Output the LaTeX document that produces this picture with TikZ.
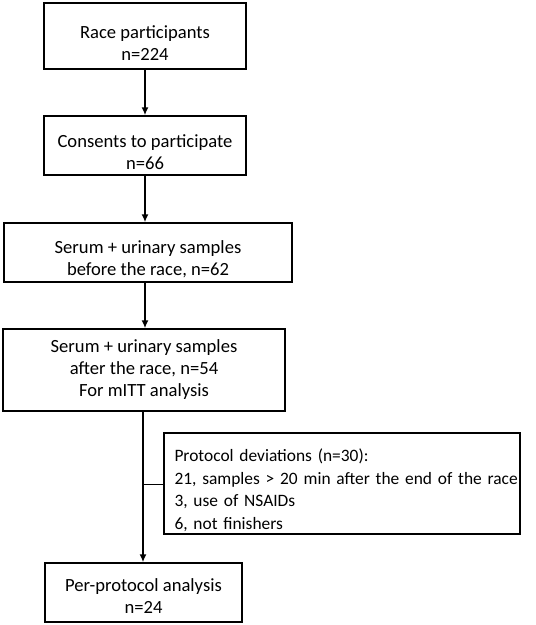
\documentclass[tikz,border=0pt]{standalone}
\usepackage{fontspec}
\setmainfont{Carlito}
\newfontfamily\devfont[WordSpace=0.8]{Carlito}
\usetikzlibrary{arrows.meta}

% pushes a node's text a little down
\newcommand{\lowstrut}[1][26pt]{\rule{0pt}{#1}}

\tikzset{
	stagebox/.style={draw, line width=1.4pt, align=center, inner sep=0pt, font=\fontsize{18.6}{22}\selectfont},
	flowarrow/.style={-{Latex[length=8pt, width=7pt]}, line width=2.4pt},
}

\begin{document}
\begin{tikzpicture}[x=1pt, y=-1pt]
		
		\useasboundingbox (0, 0) rectangle (536, 625);
		
		% main stages
		\node (race) [stagebox, minimum width=202pt, minimum height=66pt] at (145, 36) {\lowstrut Race participants\\n=224};
		\node (consent) [stagebox, minimum width=202pt, minimum height=59pt] at (145, 145.5) {\lowstrut Consents to participate\\n=66};
		\node (before) [stagebox, minimum width=288pt, minimum height=59pt] at (148, 252.5) {\lowstrut Serum + urinary samples\\before the race, n=62};
		\node (after) [stagebox, minimum width=282pt, minimum height=82pt] at (144, 370) {Serum + urinary samples\\after the race, n=54\\For mITT analysis};
		\node (perprot) [stagebox, minimum width=197pt, minimum height=59pt] at (143.5, 592.5) {\lowstrut[20pt]Per-protocol analysis\\n=24};
		
		% exclusions
		\node (dev) [stagebox, align=left, text width=335pt, minimum height=101pt, inner xsep=10.5pt,
			font=\devfont\fontsize{17.4}{22.5}\selectfont] at (342, 483.5)
			{\lowstrut Protocol deviations (n=30):\\\mbox{21, samples > 20 min after the end of the race}\\3, use of NSAIDs\\6, not finishers};
		
		\draw [flowarrow] (race.south -| 145, 0) -- (consent.north -| 145, 0);
		\draw [flowarrow] (consent.south -| 145, 0) -- (before.north -| 145, 0);
		\draw [flowarrow] (before.south -| 145, 0) -- (after.north -| 145, 0);
		\draw [flowarrow] (after.south -| 143, 0) -- (perprot.north -| 143, 0);
		
		\coordinate (split) at (143, 484);
		\draw [line width=1pt] (split) -- (split -| dev.west);
		
\end{tikzpicture}
\end{document}
